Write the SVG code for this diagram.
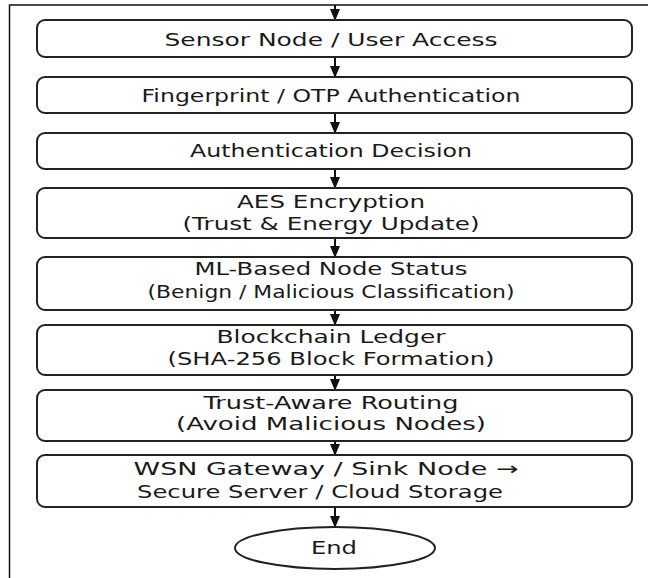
<svg xmlns="http://www.w3.org/2000/svg" width="648" height="578" viewBox="0 0 648 578">
<defs>
<marker id="ah" viewBox="0 0 12 10" refX="11" refY="5" markerWidth="6" markerHeight="5" orient="auto" markerUnits="strokeWidth">
<path d="M0,0 L12,5 L0,10 z" fill="#111"/>
</marker>
</defs>
<style>
.box{fill:#fff;stroke:#222;stroke-width:2}
.t{font-family:"DejaVu Sans","Liberation Sans",sans-serif;font-size:18px;fill:#1a1a1a;text-anchor:middle}
.c{stroke:#111;stroke-width:2;fill:none;marker-end:url(#ah)}
.frame{stroke:#111;stroke-width:1.5;fill:none}
</style>
<rect width="648" height="578" fill="#fff"/>
<path class="frame" d="M648,5 H9.5 V578"/>
<g id="connectors">
<line class="c" x1="335" y1="5" x2="335" y2="20"/>
<line class="c" x1="335" y1="57" x2="335" y2="77"/>
<line class="c" x1="335" y1="113" x2="335" y2="133"/>
<line class="c" x1="335" y1="169" x2="335" y2="188"/>
<line class="c" x1="335" y1="238" x2="335" y2="257"/>
<line class="c" x1="335" y1="310" x2="335" y2="325"/>
<line class="c" x1="335" y1="375" x2="335" y2="390"/>
<line class="c" x1="335" y1="441" x2="335" y2="455"/>
<line class="c" x1="335" y1="507" x2="335" y2="527"/>
</g>
<g id="n1"><rect class="box" x="37" y="20" width="595" height="37" rx="8"/>
<text class="t" x="331" y="46" textLength="333" lengthAdjust="spacingAndGlyphs">Sensor Node / User Access</text></g>
<g id="n2"><rect class="box" x="37" y="77" width="595" height="36" rx="8"/>
<text class="t" x="331" y="102" textLength="379" lengthAdjust="spacingAndGlyphs">Fingerprint / OTP Authentication</text></g>
<g id="n3"><rect class="box" x="37" y="133" width="595" height="36" rx="8"/>
<text class="t" x="331" y="157" textLength="282" lengthAdjust="spacingAndGlyphs">Authentication Decision</text></g>
<g id="n4"><rect class="box" x="37" y="188" width="595" height="50" rx="8"/>
<text class="t" x="331" y="208" textLength="188" lengthAdjust="spacingAndGlyphs">AES Encryption</text>
<text class="t" x="331" y="230" textLength="297" lengthAdjust="spacingAndGlyphs">(Trust &amp; Energy Update)</text></g>
<g id="n5"><rect class="box" x="37" y="257" width="595" height="53" rx="8"/>
<text class="t" x="331" y="275" textLength="273" lengthAdjust="spacingAndGlyphs">ML-Based Node Status</text>
<text class="t" x="331" y="298" textLength="367" lengthAdjust="spacingAndGlyphs">(Benign / Malicious Classification)</text></g>
<g id="n6"><rect class="box" x="37" y="325" width="595" height="50" rx="8"/>
<text class="t" x="331" y="343" textLength="229" lengthAdjust="spacingAndGlyphs">Blockchain Ledger</text>
<text class="t" x="331" y="365" textLength="327" lengthAdjust="spacingAndGlyphs">(SHA-256 Block Formation)</text></g>
<g id="n7"><rect class="box" x="37" y="390" width="595" height="51" rx="8"/>
<text class="t" x="331" y="409" textLength="255" lengthAdjust="spacingAndGlyphs">Trust-Aware Routing</text>
<text class="t" x="331" y="430" textLength="310" lengthAdjust="spacingAndGlyphs">(Avoid Malicious Nodes)</text></g>
<g id="n8"><rect class="box" x="37" y="455" width="595" height="52" rx="8"/>
<text class="t" x="326" y="475" textLength="385" lengthAdjust="spacingAndGlyphs">WSN Gateway / Sink Node →</text>
<text class="t" x="320" y="498" textLength="366" lengthAdjust="spacingAndGlyphs">Secure Server / Cloud Storage</text></g>
<g id="end"><ellipse class="box" cx="335" cy="548" rx="100" ry="21"/>
<text class="t" x="334" y="554" textLength="46" lengthAdjust="spacingAndGlyphs">End</text></g>
</svg>
